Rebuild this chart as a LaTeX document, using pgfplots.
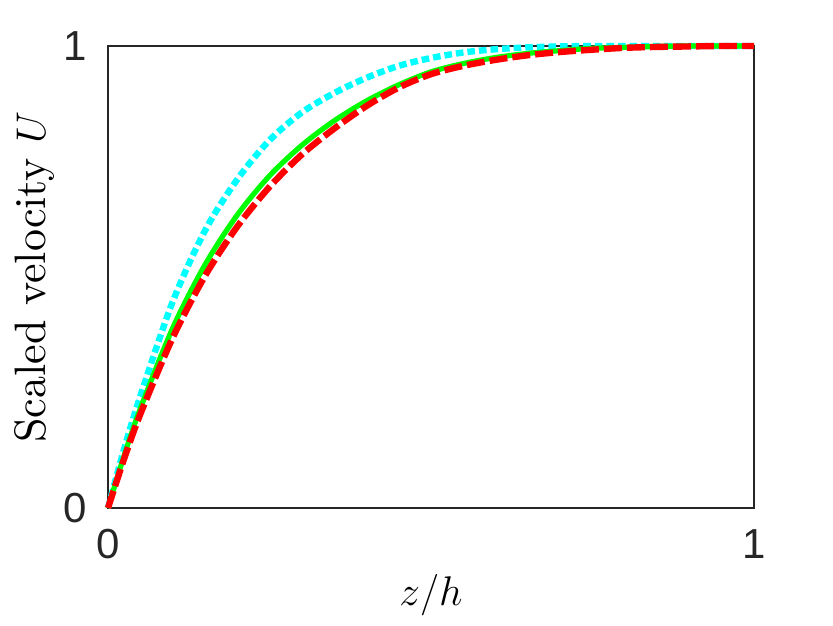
\documentclass[border=0pt]{standalone}
\usepackage{fontspec}
\setmainfont{lmroman10-regular.otf}[ItalicFont=lmroman10-italic.otf, BoldFont=lmroman10-bold.otf]
\newfontfamily\ticksf{Liberation Sans}
\usepackage{pgfplots}
\pgfplotsset{compat=1.18}
\definecolor{axgray}{rgb}{0.15,0.15,0.15}
\definecolor{mcyan}{rgb}{0,1,1}
\definecolor{mgreen}{rgb}{0,1,0}
\definecolor{mred}{rgb}{1,0,0}
\begin{document}
\begin{tikzpicture}
\path[use as bounding box] (-54pt,-58.5pt) rectangle (362.5pt,254pt);
\begin{axis}[
  scale only axis,
  width=323pt, height=231pt,
  xmin=0, xmax=1, ymin=0, ymax=1,
  xtick={0,1}, ytick={0,1},
  major tick length=0pt,
  axis line style={axgray, line width=0.7pt},
  clip=false,
  /pgf/number format/assume math mode=true,
  tick label style={font=\ticksf\fontsize{21}{25}\selectfont, text=axgray},
  xticklabel style={anchor=north, inner sep=0pt, yshift=-10.5pt},
  yticklabel style={anchor=east, inner sep=0pt, xshift=-10.5pt},
  label style={font=\fontsize{22}{26}\selectfont},
  xlabel={$z/h$},
  ylabel={Scaled velocity $U$},
  xlabel style={at={(axis description cs:0.5,-0.21)}, anchor=base, inner sep=0pt},
  ylabel style={at={(axis description cs:-0.0975,0.5)}, anchor=base, inner sep=0pt},
]
\addplot[mcyan, line width=3.2pt, dash pattern=on 3.8pt off 2pt, smooth] coordinates {
(0,0) (0.025,0.128) (0.05,0.242) (0.1,0.446) (0.15,0.600) (0.2,0.711) (0.25,0.796)
(0.3,0.856) (0.35,0.898) (0.4,0.931) (0.45,0.957) (0.5,0.974) (0.55,0.986)
(0.6,0.993) (0.65,0.997) (0.7,0.999) (0.75,1) (0.8,1) (0.9,1) (1,1)};
\addplot[mgreen, line width=2.6pt, smooth] coordinates {
(0,0) (0.025,0.1135) (0.05,0.215) (0.1,0.389) (0.15,0.526) (0.2,0.634) (0.25,0.719)
(0.3,0.785) (0.35,0.838) (0.4,0.881) (0.45,0.916) (0.5,0.944) (0.55,0.962)
(0.6,0.975) (0.65,0.984) (0.7,0.990) (0.75,0.995) (0.8,0.997) (0.85,0.999)
(0.9,1) (0.95,1) (1,1)};
\addplot[mred, line width=3.2pt, dash pattern=on 9pt off 2.5pt, smooth] coordinates {
(0,0) (0.025,0.1067) (0.05,0.203) (0.1,0.368) (0.15,0.502) (0.2,0.609) (0.25,0.695)
(0.3,0.765) (0.35,0.821) (0.4,0.870) (0.45,0.910) (0.5,0.939) (0.55,0.957)
(0.6,0.970) (0.65,0.980) (0.7,0.987) (0.75,0.992) (0.8,0.996) (0.85,0.998)
(0.9,0.999) (0.95,1) (1,1)};
\end{axis}
\end{tikzpicture}
\end{document}
